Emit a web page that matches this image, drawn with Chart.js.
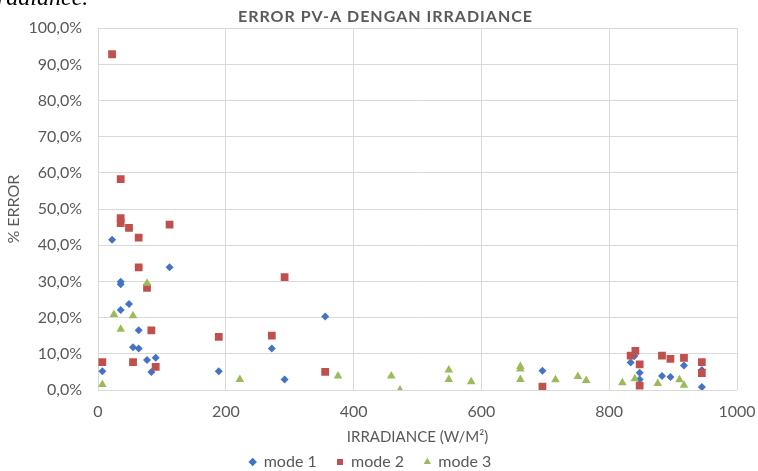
<!DOCTYPE html>
<html>
<head>
<meta charset="utf-8">
<script src="https://cdn.jsdelivr.net/npm/chart.js@4"></script>
<style>
  html, body { margin:0; padding:0; background:#fff; }
  #wrap { position:relative; width:758px; height:471px; overflow:hidden; }
  #cut { position:absolute; left:-3px; top:-15px; font:italic 24px "Liberation Serif", serif; color:#000; line-height:24px; }
  canvas { position:absolute; left:0; top:0; }
</style>
</head>
<body>
<div id="wrap">
  <canvas id="chart" width="758" height="480"></canvas>
  <div id="cut">radiance.</div>
</div>
<script>
    // ─── Data (irradiance W/m², error %) ───────────────────────────────
    const mode1X = [6.8, 22, 35.5, 35.5, 35.5, 48.5, 54.8, 63.7, 63.7, 76.7, 83.5, 90.3, 112, 189, 272, 292, 355.5, 695.5, 833.6, 839.4, 847.7, 847.7, 882.6, 895.8, 917, 945, 945];
    const mode1Y = [5.2, 41.5, 29.9, 29.2, 22.1, 23.8, 11.8, 11.5, 16.5, 8.3, 5.0, 8.9, 33.9, 5.2, 11.5, 2.9, 20.3, 5.3, 7.6, 9.4, 4.8, 2.9, 3.9, 3.6, 6.8, 5.5, 0.8];

    const mode2X = [6.8, 22, 35.5, 35.5, 35.5, 48.5, 54.8, 63.7, 63.7, 76.7, 83.5, 90.3, 112, 189, 272, 292, 355.5, 695.5, 833.6, 841, 847.7, 847.7, 882.6, 895.8, 917, 945, 945];
    const mode2Y = [7.7, 92.8, 58.3, 47.5, 46.1, 44.8, 7.7, 42.1, 33.9, 28.2, 16.5, 6.4, 45.7, 14.7, 15.0, 31.2, 5.0, 0.9, 9.5, 10.8, 7.1, 1.2, 9.5, 8.6, 8.9, 7.7, 4.7];

    const mode3X = [6.8, 25, 35.5, 54.8, 76.7, 222, 375.6, 459, 472.6, 549, 549, 584, 661, 661, 661, 716, 751, 764, 820.6, 840, 876, 910, 917];
    const mode3Y = [1.5, 20.9, 16.8, 20.5, 29.5, 2.9, 3.9, 3.9, 0.0, 5.5, 2.9, 2.3, 6.5, 5.8, 2.9, 2.8, 3.7, 2.6, 2.0, 3.1, 1.8, 2.8, 1.3];

    const seriesNames = ['mode 1', 'mode 2', 'mode 3'];
    const xTicks = [0, 200, 400, 600, 800, 1000];
    const yTicks = [0, 10, 20, 30, 40, 50, 60, 70, 80, 90, 100];

    const TXT = '#595959';
    const GRID = '#d9d9d9';
    const FONT = 'Lato, "Open Sans", sans-serif';

    const pts = (xs, ys) => xs.map((x, i) => ({ x, y: ys[i] }));

    function ds(label, data, color, style, r, order) {
        return {
            label, data, order,
            pointStyle: style,
            pointRadius: r,
            pointHoverRadius: r,
            backgroundColor: color,
            borderColor: color,
            borderWidth: 0,
            showLine: false
        };
    }

    // title drawn with a little letter spacing, nudged right like the original
    const spacedTitle = {
        id: 'spacedTitle',
        beforeDraw(chart) {
            const tb = chart.titleBlock;
            if (!tb || tb._spaced) return;
            const orig = tb.draw.bind(tb);
            tb.draw = function () {
                const ctx = chart.ctx;
                ctx.save();
                ctx.letterSpacing = '1px';
                ctx.translate(15, 0);
                orig();
                ctx.restore();
            };
            tb._spaced = true;
        }
    };

    new Chart(document.getElementById('chart'), {
        type: 'scatter',
        plugins: [spacedTitle],
        data: {
            datasets: [
                ds(seriesNames[0], pts(mode1X, mode1Y), '#4472c4', 'rectRot', 4, 3),
                ds(seriesNames[1], pts(mode2X, mode2Y), '#c0504d', 'rect', 5.5, 2),
                ds(seriesNames[2], pts(mode3X, mode3Y), '#9bbb59', 'triangle', 5, 1)
            ]
        },
        options: {
            responsive: false,
            animation: false,
            layout: { padding: { left: 4, right: 21, top: 0, bottom: 0 } },
            plugins: {
                title: {
                    display: true,
                    text: 'ERROR PV-A DENGAN IRRADIANCE',
                    color: TXT,
                    font: { family: FONT, size: 16, weight: 'bold' },
                    padding: { top: 7, bottom: 2 }
                },
                legend: {
                    position: 'bottom',
                    labels: {
                        color: TXT,
                        font: { family: FONT, size: 16 },
                        usePointStyle: true,
                        boxWidth: 6,
                        boxHeight: 6,
                        padding: 8,
                        sort: (a, b) => a.datasetIndex - b.datasetIndex,
                        generateLabels: chart => {
                            const items = Chart.defaults.plugins.legend.labels.generateLabels(chart);
                            items.forEach(it => {
                                if (it.datasetIndex < 2) it.text = it.text + '   ';
                            });
                            return items;
                        }
                    }
                },
                tooltip: { enabled: false }
            },
            scales: {
                x: {
                    type: 'linear',
                    min: 0, max: 1000,
                    afterBuildTicks: s => { s.ticks = xTicks.map(v => ({ value: v })); },
                    grid: { color: GRID, drawTicks: false },
                    border: { display: false },
                    ticks: { color: TXT, font: { family: FONT, size: 16 }, padding: 12, callback: v => String(v) },
                    title: {
                        display: true,
                        text: 'IRRADIANCE (W/M²)',
                        color: TXT,
                        font: { family: FONT, size: 15 },
                        padding: { top: 4, bottom: 0 }
                    },
                    afterFit: s => { s.height = 56; s.paddingLeft = 0; s.paddingRight = 0; }
                },
                y: {
                    min: 0, max: 100,
                    afterBuildTicks: s => { s.ticks = yTicks.map(v => ({ value: v })); },
                    grid: { color: GRID, drawTicks: false },
                    border: { display: false },
                    ticks: {
                        color: TXT,
                        font: { family: FONT, size: 16 },
                        padding: 16,
                        callback: v => v.toFixed(1).replace('.', ',') + '%'
                    },
                    title: {
                        display: true,
                        text: '% ERROR',
                        color: TXT,
                        font: { family: FONT, size: 16 },
                        padding: { top: 0, bottom: 2 }
                    },
                    afterFit: s => { s.width = 94; }
                }
            }
        }
    });
</script>
</body>
</html>
